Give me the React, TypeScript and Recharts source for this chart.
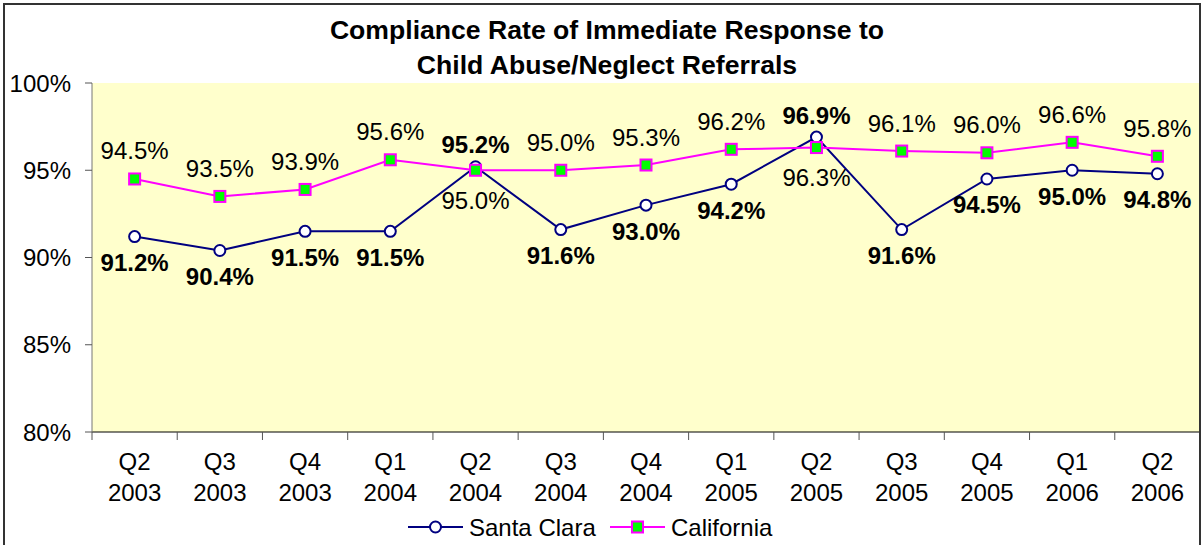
import { LineChart, Line, XAxis, YAxis, CartesianGrid, LabelList } from "recharts";

const QUARTERS = ["Q2", "Q3", "Q4", "Q1", "Q2", "Q3", "Q4", "Q1", "Q2", "Q3", "Q4", "Q1", "Q2"];
const YEARS = ["2003", "2003", "2003", "2004", "2004", "2004", "2004", "2005", "2005", "2005", "2005", "2006", "2006"];
const SANTA_CLARA = [91.2, 90.4, 91.5, 91.5, 95.2, 91.6, 93.0, 94.2, 96.9, 91.6, 94.5, 95.0, 94.8];
const CALIFORNIA = [94.5, 93.5, 93.9, 95.6, 95.0, 95.0, 95.3, 96.2, 96.3, 96.1, 96.0, 96.6, 95.8];
const Y_TICKS = [80, 85, 90, 95, 100];
const TITLE = ["Compliance Rate of Immediate Response to", "Child Abuse/Neglect Referrals"];
const SERIES_NAMES = ["Santa Clara", "California"];

const NAVY = "#000080";
const MAGENTA = "#FF00FF";
const GREEN = "#00FF00";
const FONT = "'Liberation Sans', Arial, sans-serif";

const PLOT_W = 1108;
const HALF_BAND = PLOT_W / QUARTERS.length / 2;

const data = QUARTERS.map((q, i) => ({
  label: `${q} ${YEARS[i]}`,
  santaClara: SANTA_CLARA[i],
  california: CALIFORNIA[i],
}));

// points where Santa Clara sits above California, so the labels swap sides
const swapped = (i: number) => SANTA_CLARA[i] > CALIFORNIA[i];

function QuarterTick(props: any) {
  const { x, y, payload, index } = props;
  const [q, yr] = String(payload.value).split(" ");
  return (
    <g>
      <line x1={x - HALF_BAND} x2={x - HALF_BAND} y1={y} y2={y + 8} stroke="#555" />
      {index === QUARTERS.length - 1 && (
        <line x1={x + HALF_BAND} x2={x + HALF_BAND} y1={y} y2={y + 8} stroke="#555" />
      )}
      <text x={x} y={y + 29} textAnchor="middle" dominantBaseline="central" fontSize={24} fill="#000" fontFamily={FONT}>
        {q}
      </text>
      <text x={x} y={y + 60} textAnchor="middle" dominantBaseline="central" fontSize={24} fill="#000" fontFamily={FONT}>
        {yr}
      </text>
    </g>
  );
}

function CircleDot(props: any) {
  const { cx, cy, index } = props;
  return <circle key={`c${index}`} cx={cx} cy={cy} r={5.5} fill="#fff" stroke={NAVY} strokeWidth={2} />;
}

function SquareDot(props: any) {
  const { cx, cy, index } = props;
  return <rect key={`s${index}`} x={cx - 5.5} y={cy - 5.5} width={11} height={11} fill={GREEN} stroke={MAGENTA} strokeWidth={2} />;
}

function SantaClaraLabel(props: any) {
  const { x, y, value, index } = props;
  const dy = swapped(index) ? -22 : 26;
  return (
    <text x={x} y={y + dy} textAnchor="middle" dominantBaseline="central" fontSize={24} fontWeight="bold" fill="#000" fontFamily={FONT}>
      {Number(value).toFixed(1)}%
    </text>
  );
}

function CaliforniaLabel(props: any) {
  const { x, y, value, index } = props;
  const dy = swapped(index) ? 30 : -28;
  return (
    <text x={x} y={y + dy} textAnchor="middle" dominantBaseline="central" fontSize={24} fill="#000" fontFamily={FONT}>
      {Number(value).toFixed(1)}%
    </text>
  );
}

export default function App() {
  return (
    <div style={{ position: "absolute", left: 0, top: 0, width: 1204, height: 545, overflow: "hidden", background: "#fff", fontFamily: FONT }}>
      <div style={{ position: "absolute", left: 0, top: 0 }}>
        <LineChart width={1204} height={545} data={data} margin={{ top: 83, right: 4, bottom: 53, left: 12 }}>
          <CartesianGrid horizontal={false} vertical={false} fill="#FFFFCC" />
          <XAxis
            dataKey="label"
            height={60}
            interval={0}
            padding={{ left: HALF_BAND, right: HALF_BAND }}
            tickSize={0}
            tickMargin={0}
            tickLine={false}
            axisLine={{ stroke: "#000" }}
            tick={<QuarterTick />}
          />
          <YAxis
            width={80}
            domain={[80, 100]}
            ticks={Y_TICKS}
            tickFormatter={(v: number) => `${v}%`}
            tickSize={7}
            tickMargin={14}
            axisLine={{ stroke: "#777" }}
            tickLine={{ stroke: "#555" }}
            tick={{ fontSize: 24, fill: "#000", fontFamily: FONT }}
          />
          <Line
            dataKey="santaClara"
            name={SERIES_NAMES[0]}
            stroke={NAVY}
            strokeWidth={2}
            dot={<CircleDot />}
            isAnimationActive={false}
          >
            <LabelList dataKey="santaClara" content={<SantaClaraLabel />} />
          </Line>
          <Line
            dataKey="california"
            name={SERIES_NAMES[1]}
            stroke={MAGENTA}
            strokeWidth={2}
            dot={<SquareDot />}
            isAnimationActive={false}
          >
            <LabelList dataKey="california" content={<CaliforniaLabel />} />
          </Line>
        </LineChart>
      </div>
      <svg width={1204} height={545} style={{ position: "absolute", left: 0, top: 0, pointerEvents: "none" }}>
        <rect x={4} y={4} width={1196} height={600} fill="none" stroke="#333" strokeWidth={2} />
        <text x={607} y={39} textAnchor="middle" fontSize={26.6} fontWeight="bold" fill="#000" fontFamily={FONT}>
          {TITLE[0]}
        </text>
        <text x={607} y={74} textAnchor="middle" fontSize={26.6} fontWeight="bold" fill="#000" fontFamily={FONT}>
          {TITLE[1]}
        </text>
        <g>
          <line x1={408} x2={463} y1={527} y2={527} stroke={NAVY} strokeWidth={2} />
          <circle cx={435.5} cy={527} r={5.5} fill="#fff" stroke={NAVY} strokeWidth={2} />
          <text x={469} y={527} dominantBaseline="central" fontSize={24} fill="#000" fontFamily={FONT}>
            {SERIES_NAMES[0]}
          </text>
          <line x1={610} x2={665} y1={527} y2={527} stroke={MAGENTA} strokeWidth={2} />
          <rect x={632} y={521.5} width={11} height={11} fill={GREEN} stroke={MAGENTA} strokeWidth={2} />
          <text x={671} y={527} dominantBaseline="central" fontSize={24} fill="#000" fontFamily={FONT}>
            {SERIES_NAMES[1]}
          </text>
        </g>
      </svg>
    </div>
  );
}
